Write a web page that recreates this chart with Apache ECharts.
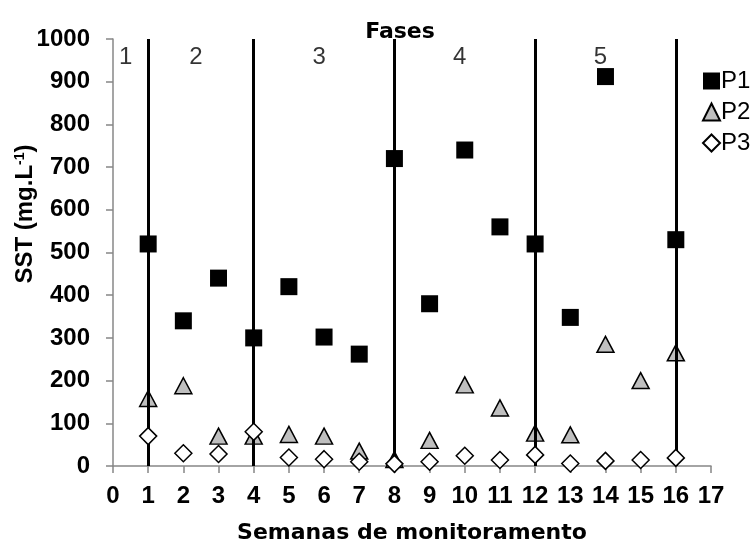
<!DOCTYPE html>
<html>
<head>
<meta charset="utf-8">
<script src="https://cdn.jsdelivr.net/npm/echarts@6/dist/echarts.min.js"></script>
<style>
  html, body { margin: 0; padding: 0; background: #ffffff; }
  #chart { width: 753px; height: 549px; }
</style>
</head>
<body>
<div id="chart"></div>
<script>
// Weekly monitoring of total suspended solids (SST) at three points
const weeks = [1, 2, 3, 4, 5, 6, 7, 8, 9, 10, 11, 12, 13, 14, 15, 16];
const p1 = [520, 340, 440, 300, 420, 302, 262, 720, 380, 740, 560, 520, 348, 912, null, 530];
const p2 = [158, 188, 70, 70, 74, 70, 35, 15, 60, 190, 136, 77, 73, 285, 200, 265];
const p3 = [70, 30, 28, 80, 20, 16, 10, 5, 10, 24, 14, 26, 6, 12, 14, 19];

// Week boundaries between operating phases, and the phase names
const phaseBounds = [0, 1, 4, 8, 12, 16];
const phaseNames = ['1', '2', '3', '4', '5'];

const xTicks = [0, 17];
const yTicks = [0, 1000];

const pairs = (vals) => weeks.map((w, i) => [w, vals[i]]).filter(d => d[1] !== null);

const axisGray = '#878787';
const boldFont = 'Liberation Sans';

const chart = echarts.init(document.getElementById('chart'), null, { renderer: 'canvas' });

const phaseLabelData = phaseNames.map((name, i) => ({
  value: [(phaseBounds[i] + phaseBounds[i + 1]) / 2, 958],
  name: name
}));

const tickLabel = {
  fontFamily: boldFont,
  fontWeight: 'bold',
  fontSize: 24,
  color: '#000',
  formatter: v => String(v)
};

chart.setOption({
  backgroundColor: '#ffffff',
  animation: false,
  title: {
    text: 'Fases',
    left: 395,
    top: 16,
    textAlign: 'center',
    textStyle: { fontFamily: 'DejaVu Sans', fontWeight: 'bold', fontSize: 22, color: '#000' }
  },
  grid: { left: 113, right: 42, top: 39, bottom: 76 },
  legend: {
    orient: 'vertical',
    left: 697,
    top: 64,
    itemWidth: 17,
    itemHeight: 17,
    itemGap: 7,
    data: ['P1', 'P2', 'P3'],
    textStyle: { fontFamily: 'Liberation Sans', fontSize: 24, color: '#000', padding: [0, 0, 0, -4] }
  },
  xAxis: {
    type: 'value',
    min: xTicks[0],
    max: xTicks[1],
    interval: 1,
    name: 'Semanas de monitoramento',
    nameLocation: 'middle',
    nameGap: 56,
    nameTextStyle: { fontFamily: 'DejaVu Sans', fontWeight: 'bold', fontSize: 22, color: '#000' },
    axisLine: { show: true, lineStyle: { color: axisGray, width: 1.5 } },
    axisTick: { show: true, length: 7, lineStyle: { color: axisGray, width: 1.5 } },
    axisLabel: Object.assign({ margin: 18 }, tickLabel),
    splitLine: { show: false }
  },
  yAxis: {
    type: 'value',
    min: yTicks[0],
    max: yTicks[1],
    interval: 100,
    axisLine: { show: true, lineStyle: { color: axisGray, width: 1.5 } },
    axisTick: { show: true, length: 7, lineStyle: { color: axisGray, width: 1.5 } },
    axisLabel: Object.assign({ margin: 23 }, tickLabel),
    splitLine: { show: false }
  },
  graphic: [{
    type: 'text',
    x: 25,
    y: 214,
    rotation: Math.PI / 2,
    style: {
      text: '{b|SST (mg.L}{s|-1}{b|)}',
      align: 'center',
      verticalAlign: 'middle',
      rich: {
        b: { fontFamily: 'Liberation Sans', fontWeight: 'bold', fontSize: 24, fill: '#000', color: '#000' },
        s: { fontFamily: 'Liberation Sans', fontWeight: 'bold', fontSize: 14, fill: '#000', color: '#000', verticalAlign: 'top', padding: [0, 0, 10, 0] }
      }
    }
  }],
  series: [
    {
      // phase boundaries and phase numbers
      name: 'phases',
      type: 'scatter',
      z: 1,
      symbolSize: 0,
      data: phaseLabelData,
      label: {
        show: true,
        position: 'inside',
        offset: [-5, 0],
        formatter: p => p.name,
        fontFamily: 'Liberation Sans',
        fontSize: 24,
        color: '#000'
      },
      markLine: {
        silent: true,
        symbol: 'none',
        label: { show: false },
        lineStyle: { color: '#000', width: 3, type: 'solid', opacity: 1 },
        data: phaseBounds.slice(1).map(b => ({ xAxis: b }))
      }
    },
    {
      name: 'P1',
      type: 'scatter',
      z: 3,
      symbol: 'rect',
      symbolSize: 17,
      itemStyle: { color: '#000000', opacity: 1 },
      data: pairs(p1)
    },
    {
      name: 'P2',
      type: 'scatter',
      z: 4,
      symbol: 'triangle',
      symbolSize: [17, 16],
      itemStyle: { color: '#bfbfbf', borderColor: '#000000', borderWidth: 1.5, opacity: 1 },
      data: pairs(p2)
    },
    {
      name: 'P3',
      type: 'scatter',
      z: 5,
      symbol: 'diamond',
      symbolSize: [17, 17],
      itemStyle: { color: '#ffffff', borderColor: '#000000', borderWidth: 1.5, opacity: 1 },
      data: pairs(p3)
    }
  ]
});
</script>
</body>
</html>
